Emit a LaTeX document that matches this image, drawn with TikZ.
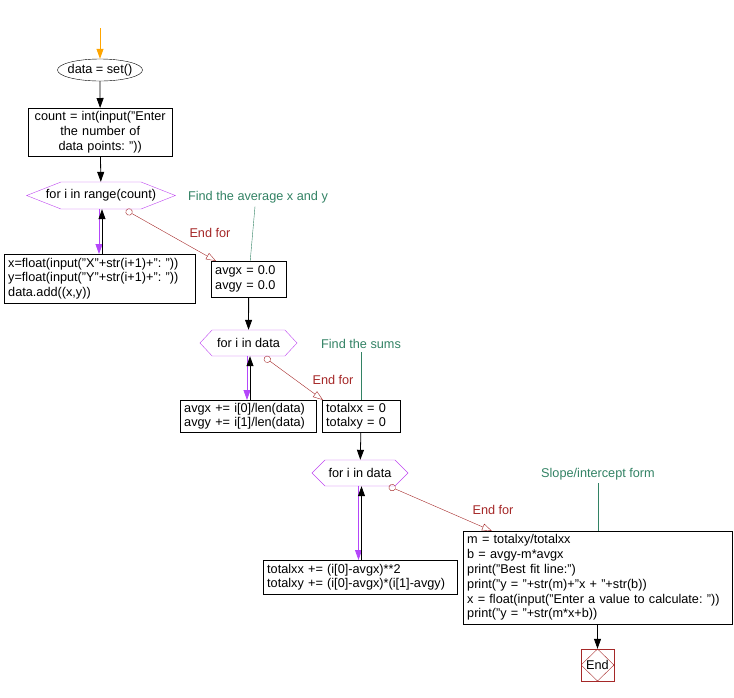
\documentclass[tikz,border=0pt]{standalone}
\usepackage{fontspec}
\setmainfont{Liberation Sans}
\usetikzlibrary{arrows.meta,shapes.geometric,shapes.symbols}
\definecolor{hexviolet}{RGB}{190,70,240}
\definecolor{loopviolet}{RGB}{180,70,250}
\definecolor{endred}{RGB}{165,40,40}
\definecolor{notegreen}{RGB}{50,130,100}
\definecolor{startorange}{RGB}{255,165,0}
\tikzset{
    code-box/.style = {draw, thin, rectangle, align=left, anchor=north west, inner xsep=4pt, inner ysep=2pt},
    loop-hex/.style = {draw=hexviolet, thin, signal, signal to=east and west, minimum height=26pt, inner sep=0pt},
    flow/.style = {-{Triangle[length=10pt,width=7pt]}, thick},
    back-flow/.style = {flow, loopviolet},
    end-for/.style = {endred, {Circle[open,length=7pt]}-{Triangle[open,length=10pt,width=7pt]}},
    end-for-label/.style = {text=endred},
    note/.style = {text=notegreen},
    note-line/.style = {draw=notegreen},
}

\begin{document}
\frenchspacing
\begin{tikzpicture}[x=1pt, y=-1pt, font=\fontsize{12.7}{14.8}\selectfont]
\useasboundingbox (0,0) rectangle (734,697);
% start
\coordinate (start) at (100,28);
\node[draw, ellipse, minimum width=85pt, minimum height=22pt, inner xsep=-6pt, inner ysep=0pt] (data) at (100,70) {data = set()};
\node[code-box, align=center, text width=136pt, minimum height=48pt] (count) at (28,108) {count = int(input("Enter\\the number of\\data points: "))};
% first loop
\node[loop-hex, signal pointer angle=43, inner xsep=-15pt, minimum height=27pt] (range) at (101,195.5) {for i in range(count)};
\node[code-box, text width=183pt, minimum height=49pt] (read) at (4,254) {x=float(input("X"+str(i+1)+": "))\\y=float(input("Y"+str(i+1)+": "))\\data.add((x,y))};
\node[code-box, text width=67pt, minimum height=36pt] (avg0) at (211,261) {avgx = 0.0\\avgy = 0.0};
\node[note] (note1) at (258,197) {Find the average x and y};
\node[end-for-label] (ef1) at (210,233) {End for};
% second loop
\node[loop-hex, signal pointer angle=94, minimum width=97pt] (data1) at (248.5,343) {for i in data};
\node[code-box, text width=128pt, minimum height=32pt] (avgsum) at (180,400) {avgx += i[0]/len(data)\\avgy += i[1]/len(data)};
\node[code-box, text width=70pt, minimum height=32pt] (tot0) at (322,400) {totalxx = 0\\totalxy = 0};
\node[note] (note2) at (361,344) {Find the sums};
\node[end-for-label] (ef2) at (333,380) {End for};
% third loop
\node[loop-hex, signal pointer angle=90, minimum width=96pt] (data2) at (360,473) {for i in data};
\node[code-box, text width=186pt, minimum height=34pt] (totsum) at (263,560) {totalxx += (i[0]-avgx)**2\\totalxy += (i[0]-avgx)*(i[1]-avgy)};
\node[code-box, text width=261pt, minimum height=93pt] (fit) at (463,531) {m = totalxy/totalxx\\b = avgy-m*avgx\\print("Best fit line:")\\print("y = "+str(m)+"x + "+str(b))\\x = float(input("Enter a value to calculate: "))\\print("y = "+str(m*x+b))};
\node[note] (note3) at (598,474) {Slope/intercept form};
\node[end-for-label] (ef3) at (493,510) {End for};
\node[draw=endred, rectangle, minimum width=33pt, minimum height=32pt, inner sep=0pt,
      path picture={\draw[endred] (path picture bounding box.north) -- (path picture bounding box.east)
      -- (path picture bounding box.south) -- (path picture bounding box.west) -- cycle;}] (end) at (597.5,665) {End};

\draw[flow, startorange] (start) -- (data);
\draw[flow] (data) -- (count);
\draw[flow] (count) -- (range);
\draw[back-flow] ([xshift=-2pt]range.south) -- ([xshift=-2pt]range.south |- read.north);
\draw[flow] ([xshift=1pt]range.south |- read.north) -- ([xshift=1pt]range.south);
\draw[end-for] ([xshift=25pt,yshift=-1pt]range.south) -- ([xshift=5pt]avg0.north west);
\draw[note-line] ([xshift=-3pt]note1.south) -- ([xshift=1.5pt]avg0.north);

\draw[flow] (avg0) -- (data1);
\draw[back-flow] ([xshift=-1.5pt]data1.south) -- ([xshift=-1.5pt]data1.south |- avgsum.north);
\draw[flow] ([xshift=1.5pt]data1.south |- avgsum.north) -- ([xshift=1.5pt]data1.south);
\draw[end-for] ([xshift=16pt,yshift=-1pt]data1.south) -- ([xshift=1pt]tot0.north west);
\draw[note-line] (note2) -- (note2 |- tot0.north);

\draw[flow] (tot0) -- (data2);
\draw[back-flow] ([xshift=-1.5pt]data2.south) -- ([xshift=-1.5pt]data2.south |- totsum.north);
\draw[flow] ([xshift=1.5pt]data2.south |- totsum.north) -- ([xshift=1.5pt]data2.south);
\draw[end-for] ([xshift=29pt]data2.south) -- ([xshift=29pt]fit.north west);
\draw[note-line] (note3) -- (note3 |- fit.north);

\draw[flow] (fit.south -| end) -- (end);
\end{tikzpicture}
\end{document}
